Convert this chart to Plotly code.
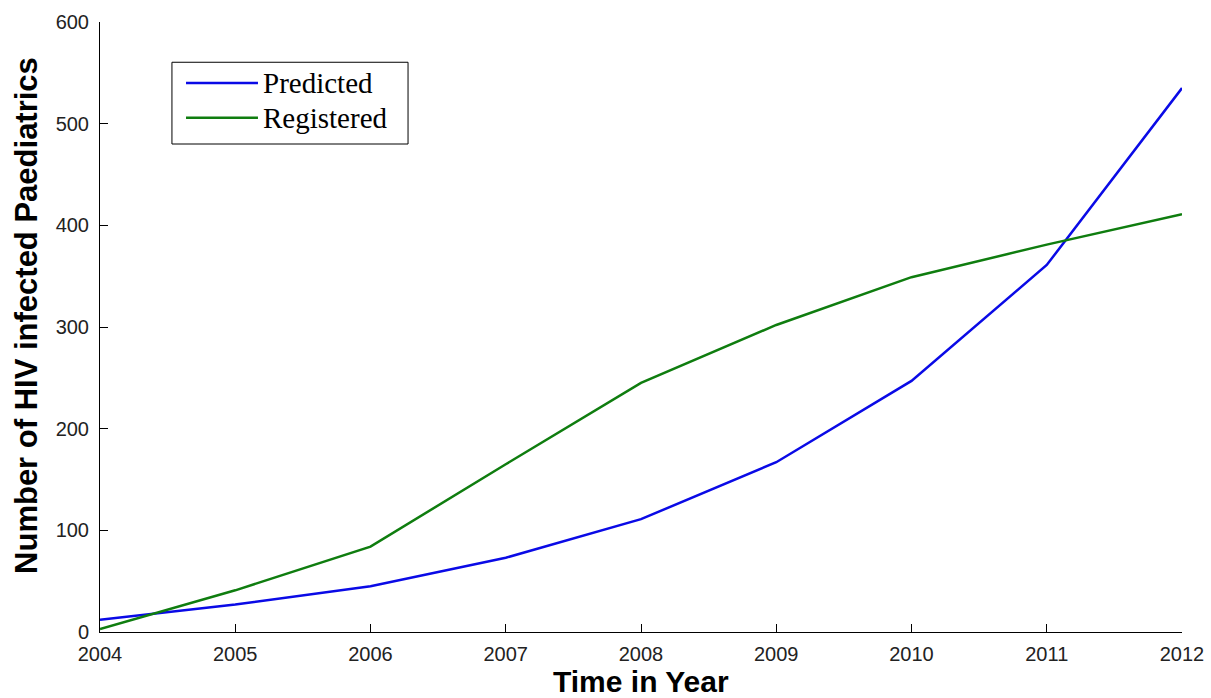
import plotly.graph_objects as go

years = [2004, 2005, 2006, 2007, 2008, 2009, 2010, 2011, 2012]
predicted = [12, 27, 45, 73, 111, 167, 247, 361, 535]
registered = [3, 41, 84, 165, 245, 302, 349, 381, 411]
x_ticks = [2004, 2005, 2006, 2007, 2008, 2009, 2010, 2011, 2012]
y_ticks = [0, 100, 200, 300, 400, 500, 600]

blue = "#0a0ae6"
green = "#0f7d0f"

fig = go.Figure()
fig.add_trace(go.Scatter(x=years, y=predicted, mode="lines", name="Predicted",
                         line=dict(color=blue, width=2.5)))
fig.add_trace(go.Scatter(x=years, y=registered, mode="lines", name="Registered",
                         line=dict(color=green, width=2.5)))

axis_common = dict(showgrid=False, zeroline=False, showline=True, linecolor="black",
                   linewidth=1, ticks="inside", ticklen=8, tickcolor="black", automargin=False,
                   tickfont=dict(family="Arial, Liberation Sans", size=20, color="#222222"))

title_font = dict(family="Arial, Liberation Sans", size=31, color="black", weight="bold")
xtitle_font = dict(family="Arial, Liberation Sans", size=30, color="black", weight="bold")

fig.update_xaxes(range=[2004, 2012], tickvals=x_ticks, ticktext=[str(v) for v in x_ticks],
                 ticklabelstandoff=4, ticklabeloverflow="allow", **axis_common)
fig.update_yaxes(range=[0, 600], tickvals=y_ticks, ticktext=[str(v) for v in y_ticks],
                 ticklabelstandoff=6, ticklabeloverflow="allow", **axis_common)

# manual MATLAB-style legend
shapes = [
    dict(type="rect", xref="paper", yref="paper", x0=0.0665, x1=0.2847, y0=0.8, y1=0.934,
         line=dict(color="black", width=1), fillcolor="white", layer="above"),
    dict(type="line", xref="paper", yref="paper", x0=0.0795, x1=0.146, y0=0.9, y1=0.9,
         line=dict(color=blue, width=2.5), layer="above"),
    dict(type="line", xref="paper", yref="paper", x0=0.0795, x1=0.146, y0=0.843, y1=0.843,
         line=dict(color=green, width=2.5), layer="above"),
]
legend_font = dict(family="Liberation Serif, Times New Roman", size=29, color="black")
annotations = [
    dict(text="Predicted", xref="paper", yref="paper", x=0.149, y=0.9, xanchor="left", yanchor="middle",
         showarrow=False, font=legend_font),
    dict(text="Registered", xref="paper", yref="paper", x=0.149, y=0.843, xanchor="left", yanchor="middle",
         showarrow=False, font=legend_font),
    # axis titles
    dict(text="Time in Year", xref="paper", yref="paper", x=0.5, y=-0.0815,
         xanchor="center", yanchor="middle", showarrow=False, font=xtitle_font),
    dict(text="Number of HIV infected Paediatrics", xref="paper", yref="paper", x=-0.0675, y=0.5197,
         xanchor="center", yanchor="middle", textangle=-90, showarrow=False, font=title_font),
]

fig.update_layout(width=1211, height=698, showlegend=False,
                  margin=dict(l=100, r=29, t=22, b=66, autoexpand=False),
                  plot_bgcolor="white", paper_bgcolor="white",
                  shapes=shapes, annotations=annotations)

# remove the page's default body margin so the figure fills the window exactly
fig.write_html("out.html", config={"displayModeBar": False},
               post_script="document.body.style.margin='0px';document.body.style.overflow='hidden';")
